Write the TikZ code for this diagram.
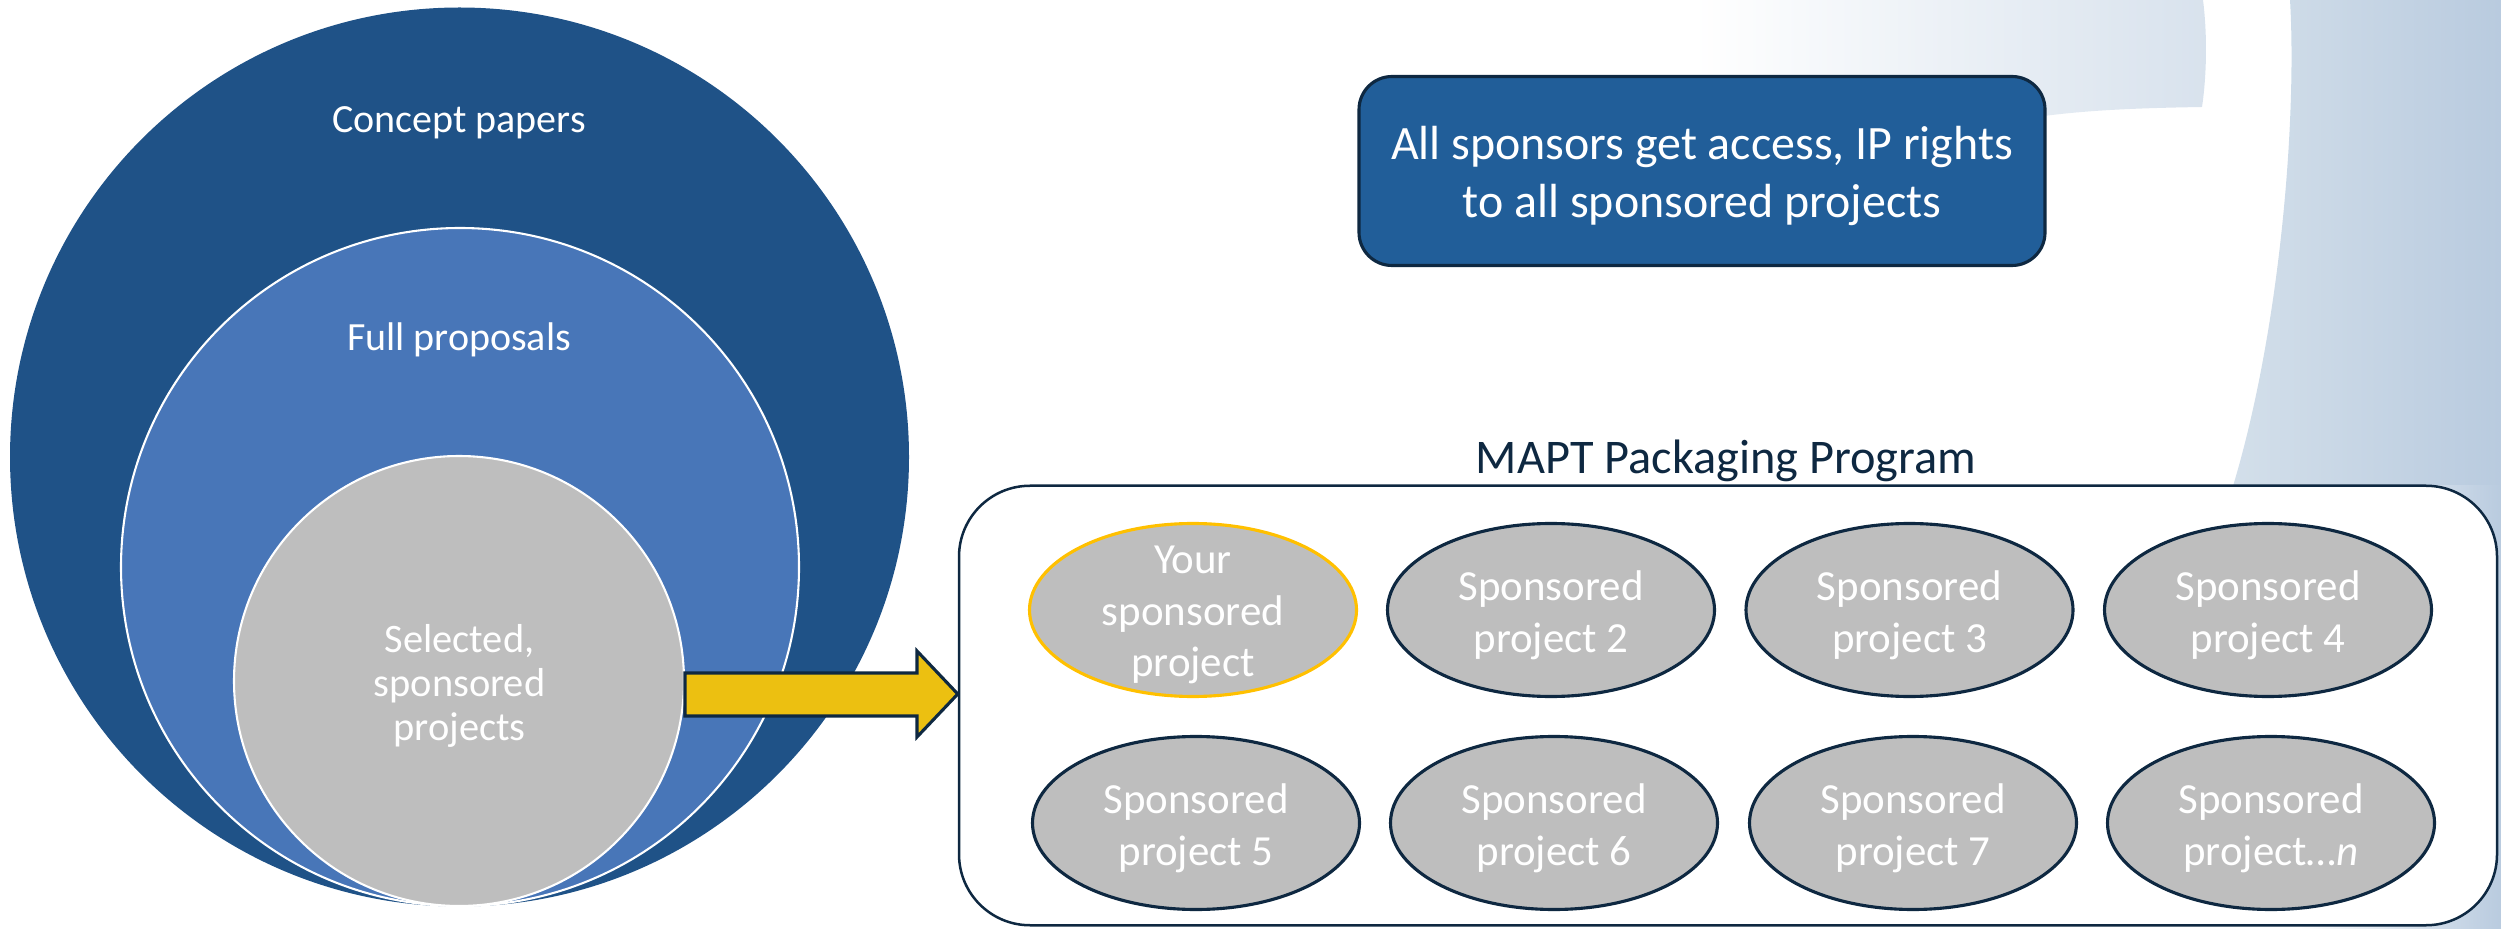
\documentclass[tikz,border=0pt]{standalone}
\usepackage{fontspec}
\setmainfont{Carlito}
\usetikzlibrary{shapes.geometric,shapes.arrows}
\definecolor{navy}{HTML}{0E2841}
\definecolor{outerblue}{HTML}{1F5287}
\definecolor{midblue}{HTML}{4876B8}
\definecolor{boxblue}{HTML}{215E99}
\definecolor{pgray}{HTML}{BEBEBE}
\definecolor{gold}{HTML}{ECC011}
\definecolor{amber}{HTML}{FFC000}
\definecolor{bandl}{HTML}{D3DFEA}
\definecolor{bandr}{HTML}{B9CBDF}
\definecolor{fadeend}{HTML}{D8E2ED}
\newcommand{\lbl}[2]{\fontsize{#1}{#2}\selectfont}
\newcommand{\shifted}[2]{\parbox{#1}{\centering\vspace*{2.4pt}#2}}
\tikzset{
  x=0.24pt,y=-0.24pt,
  circ/.style={circle,draw=white,line width=0.5pt,minimum size=#1*0.24pt,inner sep=0pt,text=white,align=center},
  proj/.style={ellipse,draw=navy,line width=0.75pt,fill=pgray,minimum width=327*0.24pt,minimum height=173*0.24pt,inner sep=-10pt,text=white,font=\lbl{10.3}{12.44}},
}
\begin{document}
\begin{tikzpicture}
\useasboundingbox (0,0) rectangle (2501,929);
% background
\shade[left color=white,right color=fadeend] (1693,0) -- (2203,0) .. controls (2208,40) and (2206,80) .. (2202,107) .. controls (2140,108) and (2090,110) .. (2044,116) -- (1693,116) -- cycle;
\shade[left color=bandl,right color=bandr] (2290,0) .. controls (2297,120) and (2280,330) .. (2233,486) -- (2501,486) -- (2501,0) -- cycle;
\shade[left color=white,right color=bandr] (2300,486) -- (2501,486) -- (2501,929) -- (2300,929) -- cycle;
% circles
\node[circ=899,fill=outerblue,draw=none] (outer) at (459.5,457) {};
\node[circ=678,fill=midblue] (mid) at (460,567) {};
\node[circ=450,fill=pgray] (inner) at (459,681) {};
\node[text=white,font=\lbl{9.6}{11}] (lc) at (459,123) {Concept papers};
\node[text=white,font=\lbl{9.6}{11}] (lf) at (459,340) {Full proposals};
\node[text=white,align=center,font=\lbl{9.7}{10.5}] (ls) at (459.5,686) {Selected,\\sponsored\\projects};
% top box
\node[draw=navy,line width=0.75pt,fill=boxblue,rounded corners=33*0.24pt,minimum width=686*0.24pt,minimum height=189*0.24pt,inner sep=0pt,text=white,font=\lbl{11.5}{13.8}] (access) at (1702,171) {\shifted{160pt}{All sponsors get access, IP rights\\to all sponsored projects}};
% program
\node[draw=navy,line width=0.6pt,fill=white,rounded corners=71*0.24pt,minimum width=1538*0.24pt,minimum height=439.5*0.24pt,inner sep=0pt] (prog) at (1728,705.5) {};
\node[text=navy,font=\lbl{11.6}{13}] (ptitle) at (1726,460.5) {MAPT Packaging Program};
\node[proj,draw=amber] (p1) at (1193,610) {\shifted{50pt}{Your\\sponsored\\project}};
\node[proj] (p2) at (1551,610) {\shifted{50pt}{Sponsored\\project 2}};
\node[proj] (p3) at (1909.5,610) {\shifted{50pt}{Sponsored\\project 3}};
\node[proj] (p4) at (2268,610) {\shifted{50pt}{Sponsored\\project 4}};
\node[proj] (p5) at (1196,823) {\shifted{50pt}{Sponsored\\project 5}};
\node[proj] (p6) at (1554,823) {\shifted{50pt}{Sponsored\\project 6}};
\node[proj] (p7) at (1913,823) {\shifted{50pt}{Sponsored\\project 7}};
\node[proj] (p8) at (2271,823) {\shifted{50pt}{Sponsored\\project\dots\textit{n}}};
% arrow
\coordinate (tip) at (prog.west |- 0,694);
\draw[navy,line width=0.75pt,fill=gold,line join=miter] (inner.east |- 0,673) -- (917,673) -- (917,651) -- (tip) -- (917,737) -- (917,716) -- (inner.east |- 0,716) -- cycle;
\end{tikzpicture}
\end{document}
